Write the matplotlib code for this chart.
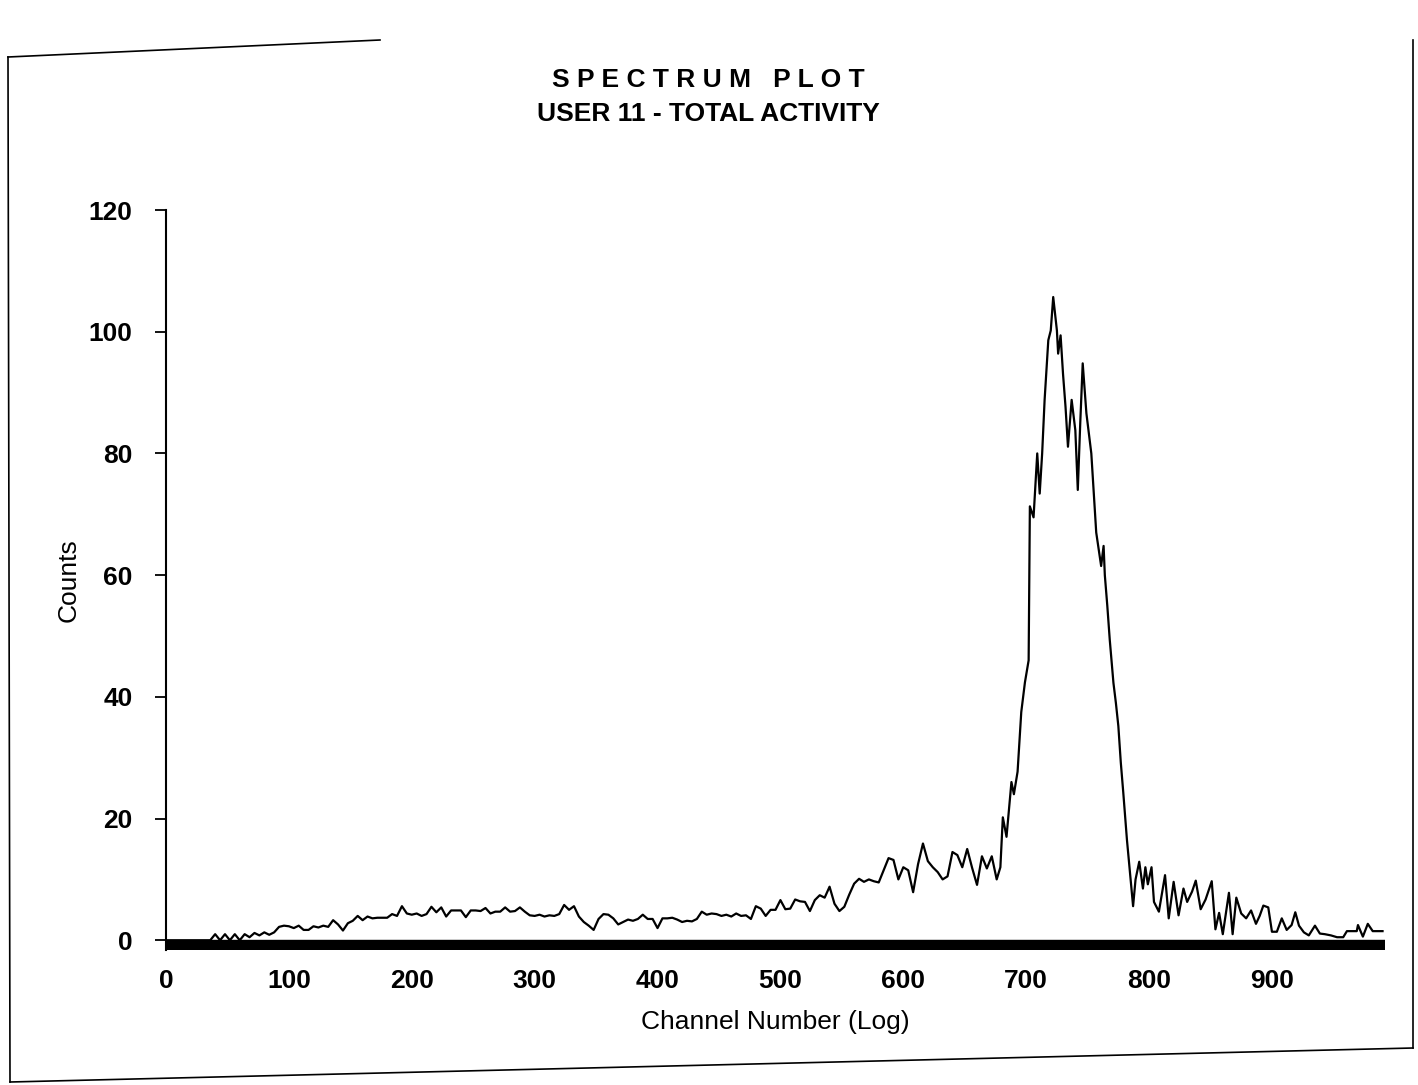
import numpy as np
import matplotlib
matplotlib.use('Agg')
import matplotlib.pyplot as plt
from matplotlib.lines import Line2D

plt.rcParams['font.family'] = ['Liberation Sans', 'DejaVu Sans']

# Spectrum
# low channels, every 4 channels from 0 to 676
low_channels = np.arange(0, 680, 4)
low_counts = [
    0, 0, 0, 0, 0, 0, 0, 0, 0, 0, 1.0, 0, 1.0, 0, 1.0, 0, 1.0, 0.5, 1.2, 0.8, 1.3, 0.9, 1.3, 2.2, 2.4,
    2.3, 2.0, 2.4, 1.7, 1.7, 2.3, 2.1, 2.4, 2.2, 3.3, 2.6, 1.6, 2.8, 3.2, 4.0, 3.3, 3.9, 3.6, 3.7, 3.7, 3.7, 4.3, 4.0, 5.6, 4.4,
    4.2, 4.4, 4.0, 4.3, 5.5, 4.6, 5.4, 3.9, 4.9, 4.9, 4.9, 3.8, 4.9, 4.9, 4.8, 5.3, 4.4, 4.7, 4.7, 5.4, 4.7, 4.8, 5.4, 4.7, 4.1,
    4.0, 4.2, 3.9, 4.1, 4.0, 4.3, 5.8, 5.0, 5.6, 3.9, 3.0, 2.4, 1.7, 3.5, 4.3, 4.2, 3.6, 2.6, 3.0, 3.4, 3.2, 3.5, 4.2, 3.5, 3.5,
    2.0, 3.6, 3.6, 3.7, 3.4, 3.0, 3.2, 3.1, 3.5, 4.7, 4.2, 4.4, 4.3, 4.0, 4.2, 3.9, 4.4, 4.0, 4.1, 3.5, 5.6, 5.2, 4.0, 5.0, 5.0,
    6.6, 5.1, 5.2, 6.7, 6.4, 6.3, 4.8, 6.6, 7.4, 7.0, 8.8, 6.0, 4.8, 5.5, 7.5, 9.3, 10.1, 9.6, 10.0, 9.7, 9.5, 11.5, 13.5, 13.2, 10.0,
    12.0, 11.5, 7.9, 12.5, 15.9, 13.0, 12.0, 11.2, 10.0, 10.5, 14.5, 14.0, 12.0, 15.0, 11.9, 9.1, 13.8, 11.8, 13.8, 10.0,
]

# main peak
peak_channels = [
    679, 681, 684, 688, 690, 693, 696, 699, 702, 703,
    706, 709, 711, 713, 715, 718, 720, 722, 725, 726,
    728, 730, 732, 734, 737, 740, 742, 744, 746, 749,
    753, 757, 761, 763, 764, 766, 768, 771, 773, 775,
    777, 779, 782, 785, 787, 789, 792, 795, 797,
]
peak_counts = [
    12.0, 20.2, 17.0, 26.0, 24.0, 27.7, 37.5, 42.4, 46.0, 71.3,
    69.5, 80.0, 73.4, 80.0, 88.8, 98.6, 100.2, 105.7, 100.2, 96.4,
    99.4, 93.0, 87.7, 81.1, 88.8, 83.8, 74.0, 85.0, 94.8, 86.6,
    80.0, 67.0, 61.5, 64.8, 60.0, 55.0, 49.4, 42.3, 39.0, 35.2,
    29.2, 24.3, 16.5, 10.0, 5.6, 10.0, 12.9, 8.5, 12.0,
]

# high-channel tail
tail_channels = [
    799, 802, 804, 808, 813, 816, 820, 824, 828, 831,
    835, 838, 842, 846, 851, 854, 857, 860, 865, 868,
    871, 875, 879, 883, 887, 890, 893, 897, 900, 904,
    908, 912, 916, 919, 922, 926, 930, 935, 939, 943,
    948, 953, 958, 961, 965, 969, 970, 974, 978, 982,
    986, 990,
]
tail_counts = [
    9.2, 12.0, 6.3, 4.7, 10.7, 3.6, 9.6, 4.1, 8.5, 6.3,
    8.0, 9.8, 5.1, 6.7, 9.7, 1.8, 4.5, 1.0, 7.8, 1.0,
    7.0, 4.4, 3.6, 4.9, 2.7, 4.0, 5.7, 5.4, 1.4, 1.4,
    3.6, 1.7, 2.5, 4.6, 2.4, 1.3, 0.8, 2.4, 1.1, 1.0,
    0.8, 0.5, 0.5, 1.5, 1.5, 1.5, 2.5, 0.6, 2.7, 1.5,
    1.5, 1.5,
]

y_ticks = [0, 20, 40, 60, 80, 100, 120]
x_ticks = [0, 100, 200, 300, 400, 500, 600, 700, 800, 900]

channels = np.concatenate([low_channels, peak_channels, tail_channels])
counts = np.concatenate([low_counts, peak_counts, tail_counts])

W, H = 1418, 1085
fig = plt.figure(figsize=(W / 100, H / 100), dpi=100)
fig.patch.set_facecolor('white')

ax = fig.add_axes([166 / W, 1 - 950 / H, (1385 - 166) / W, (950 - 210) / H])
ax.plot(channels, counts, color='black', lw=1.6)
# heavy baseline bar
ax.plot([0, 992], [-0.8, -0.8], color='black', lw=7.5, solid_capstyle='butt')

ax.set_xlim(0, 992)
ax.set_ylim(-1.6, 120)
ax.set_yticks(y_ticks)
ax.set_xticks(x_ticks)
for s in ['top', 'right', 'bottom']:
    ax.spines[s].set_visible(False)
ax.spines['left'].set_linewidth(1.5)
ax.tick_params(axis='y', length=8, width=1.3, pad=16, labelsize=19)
ax.tick_params(axis='x', length=0, pad=14, labelsize=19)
for lab in ax.get_xticklabels() + ax.get_yticklabels():
    lab.set_fontweight('bold')

ax.set_ylabel('Counts', fontsize=19, labelpad=6)
ax.set_xlabel('Channel Number (Log)', fontsize=19, labelpad=12)

fig.text(708 / W, 1 - 80 / H, 'S P E C T R U M   P L O T', ha='center', va='center',
         fontsize=19, fontweight='bold')
fig.text(708 / W, 1 - 114 / H, 'USER 11 - TOTAL ACTIVITY', ha='center', va='center',
         fontsize=19, fontweight='bold')

# scanned page border
def fx(x):
    return x / W

def fy(y):
    return 1 - y / H

border = [
    ([8, 10], [57, 1082]),
    ([10, 1413], [1082, 1048]),
    ([1413, 1413], [1048, 40]),
    ([8, 380], [57, 40]),
]
for xs, ys in border:
    fig.add_artist(Line2D([fx(v) for v in xs], [fy(v) for v in ys], color='black', lw=1.2))

fig.savefig('out.png', dpi=100, facecolor='white')
